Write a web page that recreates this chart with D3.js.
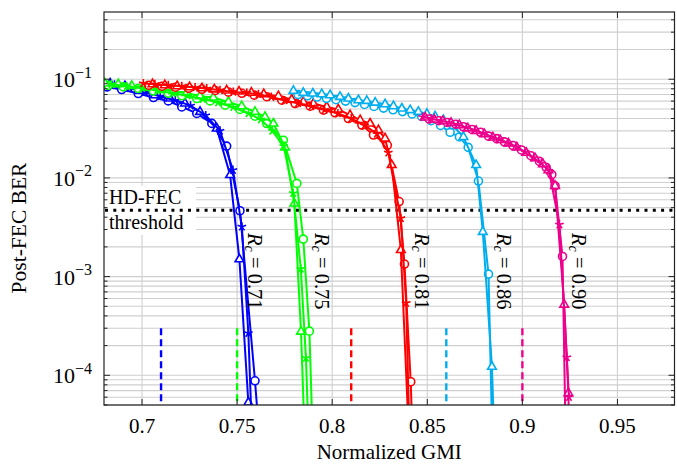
<!DOCTYPE html>
<html><head><meta charset="utf-8">
<script src="https://cdn.jsdelivr.net/npm/d3@7"></script>
<style>html,body{margin:0;padding:0;background:#fff;}svg{display:block;}</style>
</head><body>
<svg id="c" width="677" height="464"></svg>
<script>
// ---------------- data ----------------
const xTicks = [0.7, 0.75, 0.8, 0.85, 0.9, 0.95];
const xTickLabels = ["0.7", "0.75", "0.8", "0.85", "0.9", "0.95"];
const yTicks = [1e-1, 1e-2, 1e-3, 1e-4];
const yTickExp = ["−1", "−2", "−3", "−4"];
const hdFec = 4.7e-3;

const rates = ["0.71", "0.75", "0.81", "0.86", "0.90"];
const rateValues = [0.71, 0.75, 0.81, 0.86, 0.90];
const colors = ["#0000ff", "#00ff00", "#ff0000", "#00aeef", "#ec008c"];
const labelX = [0.7557, 0.7912, 0.8438, 0.8868, 0.9262];
const labelY = 2.76e-3;
const dashTop = 3e-4;

// blue (Rc = 0.71)
const blueCircX = [0.6817, 0.6893, 0.698, 0.706, 0.7138, 0.7209, 0.7288, 0.7367, 0.7445, 0.7515, 0.7594, 0.7672];
const blueCircY = [0.0836, 0.0787, 0.0717, 0.0653, 0.0603, 0.0524, 0.045, 0.0357, 0.021, 0.00465, 0.000088, 0.000001];
const blueTriX = [0.6832, 0.691, 0.6989, 0.7068, 0.7147, 0.7226, 0.7305, 0.7393, 0.7463, 0.7512, 0.7559, 0.760];
const blueTriY = [0.0905, 0.085, 0.0762, 0.0689, 0.0638, 0.0568, 0.0467, 0.0317, 0.0107, 0.0015, 0.000053, 0.000001];
const blueStarX = [0.6855, 0.6935, 0.7015, 0.7095, 0.7175, 0.7255, 0.7335, 0.741, 0.7478, 0.7525, 0.7559, 0.7605];
const blueStarY = [0.088, 0.081, 0.074, 0.067, 0.061, 0.054, 0.043, 0.030, 0.012, 0.0032, 0.000267, 0.000001];

// green (Rc = 0.75)
const greenTriX = [0.6805, 0.6875, 0.6946, 0.7025, 0.7095, 0.7165, 0.7235, 0.7305, 0.7375, 0.7454, 0.7524, 0.7594, 0.7647, 0.7691, 0.7752, 0.7801, 0.7836, 0.788];
const greenTriY = [0.0905, 0.089, 0.0856, 0.0836, 0.0805, 0.0756, 0.0727, 0.0673, 0.0653, 0.0589, 0.0533, 0.0467, 0.0415, 0.0356, 0.0204, 0.0055, 0.000277, 0.000001];
const greenCircX = [0.6823, 0.6902, 0.698, 0.706, 0.7138, 0.7209, 0.7288, 0.7358, 0.7437, 0.7515, 0.7594, 0.7656, 0.7743, 0.7814, 0.7848, 0.788, 0.792];
const greenCircY = [0.0868, 0.0836, 0.0805, 0.076, 0.072, 0.068, 0.0638, 0.0603, 0.0546, 0.0494, 0.0422, 0.0356, 0.0241, 0.0088, 0.0024, 0.00028, 0.000001];
const greenStarX = [0.684, 0.692, 0.700, 0.708, 0.716, 0.724, 0.732, 0.740, 0.748, 0.756, 0.7625, 0.7685, 0.7745, 0.7795, 0.7835, 0.7862, 0.790];
const greenStarY = [0.089, 0.085, 0.081, 0.077, 0.072, 0.068, 0.063, 0.058, 0.052, 0.045, 0.039, 0.030, 0.021, 0.007, 0.0012, 0.00015, 0.000001];

// red (Rc = 0.81)
const redCircX = [0.7035, 0.7105, 0.7175, 0.7245, 0.7315, 0.7385, 0.7455, 0.7525, 0.759, 0.7656, 0.7735, 0.7805, 0.7884, 0.7954, 0.8015, 0.8085, 0.8156, 0.8217, 0.829, 0.8352, 0.838, 0.8413, 0.8445];
const redCircY = [0.087, 0.085, 0.083, 0.081, 0.079, 0.077, 0.074, 0.072, 0.069, 0.0665, 0.0613, 0.0567, 0.0533, 0.0486, 0.0457, 0.040, 0.0343, 0.0272, 0.0214, 0.00576, 0.00134, 0.000086, 0.000001];
const redTriX = [0.7055, 0.712, 0.7185, 0.725, 0.7315, 0.738, 0.7445, 0.751, 0.7575, 0.764, 0.7717, 0.7787, 0.7848, 0.7901, 0.7971, 0.8032, 0.8094, 0.8147, 0.8199, 0.8243, 0.8278, 0.8313, 0.8361, 0.8405];
const redTriY = [0.089, 0.087, 0.085, 0.083, 0.081, 0.079, 0.077, 0.075, 0.073, 0.0705, 0.0673, 0.0623, 0.0589, 0.0567, 0.0524, 0.0494, 0.0432, 0.0385, 0.0356, 0.0305, 0.0251, 0.0135, 0.00186, 0.00002];
const redStarX = [0.7007, 0.7068, 0.7138, 0.7209, 0.7279, 0.734, 0.741, 0.748, 0.7551, 0.7612, 0.768, 0.775, 0.782, 0.789, 0.796, 0.803, 0.810, 0.817, 0.8235, 0.8295, 0.8361, 0.8389, 0.842];
const redStarY = [0.0905, 0.089, 0.087, 0.085, 0.0824, 0.0805, 0.0774, 0.0744, 0.0727, 0.0705, 0.066, 0.061, 0.057, 0.053, 0.049, 0.045, 0.040, 0.034, 0.028, 0.018, 0.0039, 0.00054, 0.000002];

// cyan (Rc = 0.86)
const cyanTriX = [0.7796, 0.7848, 0.7898, 0.7945, 0.7989, 0.8041, 0.8085, 0.8138, 0.8182, 0.8226, 0.8278, 0.8322, 0.8366, 0.841, 0.8453, 0.8498, 0.8541, 0.8585, 0.8637, 0.869, 0.8757, 0.8792, 0.884, 0.8875];
const cyanTriY = [0.0762, 0.0727, 0.0717, 0.0705, 0.0689, 0.0662, 0.0638, 0.0613, 0.0603, 0.058, 0.0558, 0.0533, 0.0505, 0.0486, 0.0467, 0.0445, 0.042, 0.0385, 0.0335, 0.026, 0.0135, 0.00284, 0.000122, 0.000001];
const cyanCircX = [0.782, 0.787, 0.792, 0.797, 0.802, 0.807, 0.812, 0.817, 0.822, 0.827, 0.832, 0.837, 0.842, 0.847, 0.852, 0.857, 0.862, 0.8669, 0.8715, 0.8769, 0.8822, 0.8858];
const cyanCircY = [0.070, 0.068, 0.066, 0.064, 0.062, 0.060, 0.058, 0.0555, 0.053, 0.051, 0.049, 0.047, 0.0445, 0.042, 0.038, 0.034, 0.029, 0.026, 0.0204, 0.0093, 0.00106, 0.000001];

// magenta (Rc = 0.90)
const magTriX = [0.8489, 0.8537, 0.8582, 0.8625, 0.8669, 0.8713, 0.8757, 0.880, 0.8845, 0.8883, 0.8927, 0.8971, 0.902, 0.9067, 0.9108, 0.9137, 0.9172, 0.922, 0.9242, 0.926];
const magTriY = [0.0409, 0.039, 0.0376, 0.0361, 0.0343, 0.0318, 0.030, 0.0278, 0.0257, 0.0242, 0.0224, 0.0204, 0.018, 0.0158, 0.0138, 0.012, 0.0083, 0.00052, 0.000066, 0.000001];
const magCircX = [0.851, 0.856, 0.8605, 0.865, 0.869, 0.8735, 0.878, 0.8822, 0.8865, 0.8905, 0.895, 0.8995, 0.9045, 0.909, 0.9125, 0.9155, 0.9172, 0.9211, 0.924];
const magCircY = [0.0395, 0.038, 0.0365, 0.035, 0.033, 0.031, 0.029, 0.0265, 0.025, 0.0232, 0.0213, 0.0192, 0.0168, 0.0147, 0.0128, 0.0108, 0.0083, 0.0016, 0.000001];
const magStarX = [0.8475, 0.852, 0.857, 0.8615, 0.866, 0.8705, 0.875, 0.8795, 0.884, 0.888, 0.8925, 0.897, 0.9015, 0.906, 0.910, 0.914, 0.9195, 0.9234, 0.9245];
const magStarY = [0.0415, 0.0398, 0.038, 0.0365, 0.0347, 0.0325, 0.0305, 0.0283, 0.026, 0.0245, 0.0226, 0.0206, 0.0183, 0.016, 0.014, 0.0118, 0.00337, 0.000152, 0.00006];

// ---------------- chart ----------------
const series = [
  {c: 0, m: "circle", x: blueCircX, y: blueCircY},
  {c: 0, m: "triangle", x: blueTriX, y: blueTriY},
  {c: 0, m: "star", x: blueStarX, y: blueStarY},
  {c: 1, m: "circle", x: greenCircX, y: greenCircY},
  {c: 1, m: "triangle", x: greenTriX, y: greenTriY},
  {c: 1, m: "star", x: greenStarX, y: greenStarY},
  {c: 2, m: "circle", x: redCircX, y: redCircY},
  {c: 2, m: "triangle", x: redTriX, y: redTriY},
  {c: 2, m: "star", x: redStarX, y: redStarY},
  {c: 3, m: "circle", x: cyanCircX, y: cyanCircY},
  {c: 3, m: "triangle", x: cyanTriX, y: cyanTriY},
  {c: 4, m: "circle", x: magCircX, y: magCircY},
  {c: 4, m: "triangle", x: magTriX, y: magTriY},
  {c: 4, m: "star", x: magStarX, y: magStarY}
];

const L = 104, R = 674.5, T = 12, B = 405;
const FONT = "'Liberation Serif','DejaVu Serif',serif";
const x = d3.scaleLinear().domain([0.68, 0.98]).range([L, R]);
const y = d3.scaleLog().domain([5e-5, 0.48]).range([B, T]);

const svg = d3.select("#c");
svg.append("defs").append("clipPath").attr("id", "plotclip")
  .append("rect").attr("x", L).attr("y", T).attr("width", R - L).attr("height", B - T);

// grid
const grid = svg.append("g");
const minorY = [];
for (let e = -5; e <= -1; e++) for (let k = 1; k <= 9; k++) {
  const v = k * Math.pow(10, e);
  if (v >= 5e-5 && v <= 0.48) minorY.push(v);
}
grid.selectAll("line.gy").data(minorY).join("line")
  .attr("x1", L).attr("x2", R).attr("y1", d => y(d)).attr("y2", d => y(d))
  .attr("stroke", "#cfcfcf").attr("stroke-width", 1.1);
grid.selectAll("line.gx").data(xTicks).join("line")
  .attr("x1", d => x(d)).attr("x2", d => x(d)).attr("y1", T).attr("y2", B)
  .attr("stroke", "#cfcfcf").attr("stroke-width", 1.1);

// HD-FEC label box
svg.append("rect").attr("x", L + 1).attr("y", 186).attr("width", 91).attr("height", 49).attr("fill", "#fff");
svg.append("text").attr("x", 109).attr("y", 204).attr("font-family", FONT).attr("font-size", 20).text("HD-FEC");
svg.append("text").attr("x", 109).attr("y", 229).attr("font-family", FONT).attr("font-size", 20).text("threshold");

// threshold line
svg.append("line").attr("x1", L + 1).attr("x2", R).attr("y1", y(hdFec)).attr("y2", y(hdFec))
  .attr("stroke", "#000").attr("stroke-width", 3).attr("stroke-dasharray", "3,5.3");

// dashed rate lines
svg.append("g").selectAll("line").data(rateValues).join("line")
  .attr("x1", d => x(d)).attr("x2", d => x(d)).attr("y1", y(dashTop)).attr("y2", B)
  .attr("stroke", (d, i) => colors[i]).attr("stroke-width", 2.4).attr("stroke-dasharray", "7,4");

// curves
const plot = svg.append("g").attr("clip-path", "url(#plotclip)");
const line = d3.line().x(d => x(d[0])).y(d => y(d[1]));
const triPath = r => `M0,${-r}L${r * 0.866},${r * 0.5}L${-r * 0.866},${r * 0.5}Z`;
const starPath = r => d3.range(5).map(k => {
  const a = (-90 + 72 * k) * Math.PI / 180;
  return `M0,0L${(r * Math.cos(a)).toFixed(2)},${(r * Math.sin(a)).toFixed(2)}`;
}).join("");

series.forEach(s => {
  const pts = s.x.map((v, i) => [v, s.y[i]]);
  const col = colors[s.c];
  const g = plot.append("g");
  g.append("path").attr("d", line(pts)).attr("fill", "none").attr("stroke", col).attr("stroke-width", 2);
  const inside = pts.filter(p => p[1] >= 5e-5);
  const mk = g.selectAll("g.m").data(inside).join("g").attr("transform", d => `translate(${x(d[0])},${y(d[1])})`);
  if (s.m === "circle") mk.append("circle").attr("r", 4).attr("fill", "#fff").attr("stroke", col).attr("stroke-width", 1.6);
  else if (s.m === "triangle") mk.append("path").attr("d", triPath(5)).attr("fill", "#fff").attr("stroke", col).attr("stroke-width", 1.6);
  else mk.append("path").attr("d", starPath(4.5)).attr("fill", "none").attr("stroke", col).attr("stroke-width", 1.6);
});

// rate labels
svg.append("g").selectAll("text").data(rates).join("text")
  .attr("transform", (d, i) => `translate(${x(labelX[i])},${y(labelY)}) rotate(90)`)
  .attr("font-family", FONT).attr("font-size", 20.5)
  .each(function (d) {
    const t = d3.select(this);
    t.append("tspan").attr("font-style", "italic").text("R");
    t.append("tspan").attr("font-style", "italic").attr("font-size", 14).attr("dy", 3).text("c");
    t.append("tspan").attr("dy", -3).text(" = " + d);
  });

// frame
svg.append("rect").attr("x", L).attr("y", T).attr("width", R - L).attr("height", B - T)
  .attr("fill", "none").attr("stroke", "#222").attr("stroke-width", 1.2);

// ticks
const tk = svg.append("g").attr("stroke", "#222").attr("stroke-width", 1);
xTicks.forEach(v => {
  tk.append("line").attr("x1", x(v)).attr("x2", x(v)).attr("y1", B).attr("y2", B - 6);
  tk.append("line").attr("x1", x(v)).attr("x2", x(v)).attr("y1", T).attr("y2", T + 6);
});
minorY.forEach(v => {
  const len = yTicks.includes(v) ? 6 : 3.5;
  tk.append("line").attr("x1", L).attr("x2", L + len).attr("y1", y(v)).attr("y2", y(v));
  tk.append("line").attr("x1", R).attr("x2", R - len).attr("y1", y(v)).attr("y2", y(v));
});

// tick labels
svg.append("g").selectAll("text").data(xTicks).join("text")
  .attr("x", d => x(d)).attr("y", 433).attr("text-anchor", "middle")
  .attr("font-family", FONT).attr("font-size", 21).text((d, i) => xTickLabels[i]);
svg.append("g").selectAll("text").data(yTicks).join("text")
  .attr("x", 92).attr("y", d => y(d) + 8).attr("text-anchor", "end")
  .attr("font-family", FONT).attr("font-size", 22)
  .each(function (d, i) {
    const t = d3.select(this);
    t.append("tspan").text("10");
    t.append("tspan").attr("dy", -9.5).attr("font-size", 16).text(yTickExp[i]);
  });

// axis titles
svg.append("text").attr("x", (L + R) / 2).attr("y", 459).attr("text-anchor", "middle")
  .attr("font-family", FONT).attr("font-size", 21).text("Normalized GMI");
svg.append("text").attr("transform", "translate(26,228) rotate(-90)").attr("text-anchor", "middle")
  .attr("font-family", FONT).attr("font-size", 21.5).text("Post-FEC BER");
</script>
</body></html>
